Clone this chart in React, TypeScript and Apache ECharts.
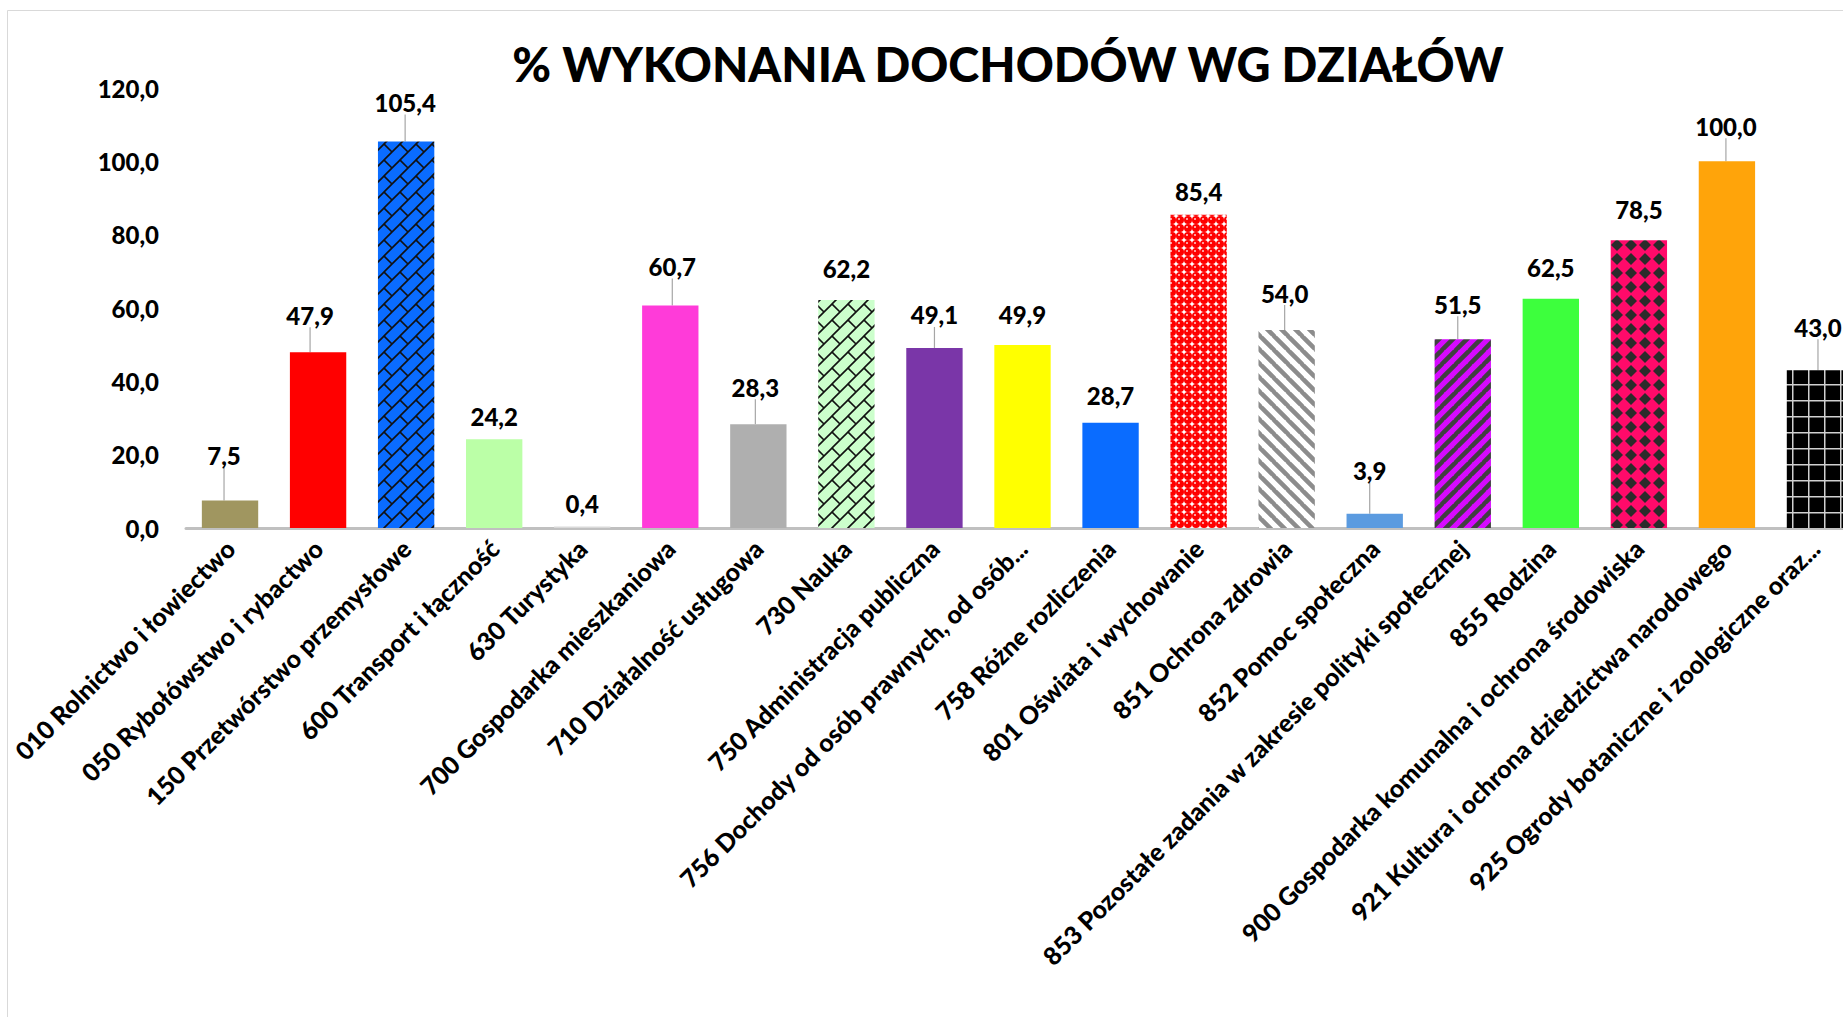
import React, { useEffect, useRef } from "react";
import * as echarts from "echarts";

const TITLE = "% WYKONANIA DOCHODÓW WG DZIAŁÓW";

const categories = [
  "010 Rolnictwo i łowiectwo",
  "050 Rybołówstwo i rybactwo",
  "150 Przetwórstwo przemysłowe",
  "600 Transport i łączność",
  "630 Turystyka",
  "700 Gospodarka mieszkaniowa",
  "710 Działalność usługowa",
  "730 Nauka",
  "750 Administracja publiczna",
  "756 Dochody od osób prawnych, od osób...",
  "758 Różne rozliczenia",
  "801 Oświata i wychowanie",
  "851 Ochrona zdrowia",
  "852 Pomoc społeczna",
  "853 Pozostałe zadania w zakresie polityki społecznej",
  "855 Rodzina",
  "900 Gospodarka komunalna i ochrona środowiska",
  "921 Kultura i ochrona dziedzictwa narodowego",
  "925 Ogrody botaniczne i zoologiczne oraz...",
];

const values = [7.5, 47.9, 105.4, 24.2, 0.4, 60.7, 28.3, 62.2, 49.1, 49.9, 28.7, 85.4, 54.0, 3.9, 51.5, 62.5, 78.5, 100.0, 43.0];

const yTicks = [0, 20, 40, 60, 80, 100, 120];

// label placement (styling only)
const labelLift = [28, 20, 22, 6, 6, 22, 20, 14, 16, 14, 10, 6, 20, 26, 18, 14, 14, 18, 26];
const labelShift = [-6, -8, -1, 0, 0, 2, -3, 0, 0, 0, 0, 0, -2, -5, -5, 0, 0, -1, 3];
const hasLeader = [1, 1, 1, 0, 0, 1, 1, 0, 1, 0, 0, 0, 1, 1, 1, 0, 0, 1, 1];

const fmt = (v: number) => v.toFixed(1).replace(".", ",");

function tile(w: number, h: number, draw: (c: CanvasRenderingContext2D) => void) {
  const cv = document.createElement("canvas");
  cv.width = w;
  cv.height = h;
  const ctx = cv.getContext("2d") as CanvasRenderingContext2D;
  draw(ctx);
  return { image: cv, repeat: "repeat", imageWidth: w, imageHeight: h } as any;
}

function brick(base: string) {
  return tile(16, 16, (c) => {
    c.fillStyle = base;
    c.fillRect(0, 0, 16, 16);
    c.strokeStyle = "#111";
    c.lineWidth = 1.6;
    c.beginPath();
    c.moveTo(-2, 18); c.lineTo(18, -2);
    c.moveTo(-2, 2); c.lineTo(2, -2);
    c.moveTo(14, 18); c.lineTo(18, 14);
    c.moveTo(-1, -1); c.lineTo(8, 8);
    c.stroke();
  });
}

function stripes(base: string, line: string, up: boolean, size: number, lw: number) {
  return tile(size, size, (c) => {
    c.fillStyle = base;
    c.fillRect(0, 0, size, size);
    c.strokeStyle = line;
    c.lineWidth = lw;
    c.beginPath();
    for (let k = -1; k <= 1; k++) {
      if (up) {
        c.moveTo(k * size - 1, size + 1);
        c.lineTo(k * size + size + 1, -1);
      } else {
        c.moveTo(k * size - 1, -1);
        c.lineTo(k * size + size + 1, size + 1);
      }
    }
    c.stroke();
  });
}

function spheres() {
  return tile(8, 8, (c) => {
    c.fillStyle = "#ffffff";
    c.fillRect(0, 0, 8, 8);
    c.fillStyle = "#ff0000";
    c.beginPath();
    c.arc(4, 4, 4.0, 0, Math.PI * 2);
    c.fill();
    c.fillStyle = "#ffd0d0";
    c.beginPath();
    c.arc(3, 3, 1, 0, Math.PI * 2);
    c.fill();
  });
}

function diamonds() {
  return tile(14, 14, (c) => {
    c.fillStyle = "#ff0a6a";
    c.fillRect(0, 0, 14, 14);
    c.fillStyle = "#2b2b2b";
    c.beginPath();
    c.moveTo(7, 1); c.lineTo(13, 7); c.lineTo(7, 13); c.lineTo(1, 7);
    c.closePath();
    c.fill();
  });
}

function gridTile() {
  return tile(16, 16, (c) => {
    c.fillStyle = "#000000";
    c.fillRect(0, 0, 16, 16);
    c.fillStyle = "#d0d0d0";
    c.fillRect(0, 0, 16, 1.5);
    c.fillRect(0, 0, 1.5, 16);
  });
}

export default function App() {
  const ref = useRef<HTMLDivElement>(null);
  useEffect(() => {
    if (!ref.current) return;
    const chart = echarts.init(ref.current, null, { renderer: "svg" });
    const fills: any[] = [
      "#a09660",
      "#ff0000",
      brick("#0a6cff"),
      "#bbffa7",
      "#d9d9d9",
      "#ff3bd9",
      "#afafaf",
      brick("#ccffcc"),
      "#7a36a8",
      "#ffff00",
      "#0a6cff",
      spheres(),
      stripes("#ffffff", "#8c8c8c", false, 14, 4.5),
      "#5b9be0",
      stripes("#d60aff", "#404040", true, 14, 4.5),
      "#3dff3d",
      diamonds(),
      "#ffa40a",
      gridTile(),
    ];
    const font = "Lato, 'Open Sans', sans-serif";
    chart.setOption({
      animation: false,
      backgroundColor: "#ffffff",
      graphic: [
        {
          type: "rect",
          shape: { x: 7.5, y: 10.5, width: 2000, height: 1100 },
          style: { fill: "none", stroke: "#d9d9d9", lineWidth: 1 },
          silent: true,
        },
        {
          type: "text",
          x: 1008,
          y: 64,
          style: {
            text: TITLE,
            fill: "#000",
            font: "900 47px Lato, sans-serif",
            textAlign: "center",
            textVerticalAlign: "middle",
          },
        },
      ],
      grid: { left: 186, right: 1, top: 88, bottom: 489, containLabel: false },
      xAxis: {
        type: "category",
        data: categories,
        axisLine: { show: true, lineStyle: { color: "#c0c0c0", width: 3 } },
        axisTick: { show: false },
        axisLabel: {
          interval: 0,
          rotate: 45,
          margin: 16,
          color: "#000",
          fontFamily: font,
          fontWeight: 900,
          fontSize: 25,
        },
      },
      yAxis: {
        type: "value",
        min: 0,
        max: 120,
        interval: 20,
        splitLine: { show: false },
        axisLine: { show: false },
        axisTick: { show: false },
        axisLabel: {
          margin: 27,
          color: "#000",
          fontFamily: font,
          fontWeight: 900,
          fontSize: 24,
          formatter: (v: number) => (yTicks.indexOf(v) >= 0 ? fmt(v) : ""),
        },
      },
      series: [
        {
          type: "bar",
          barCategoryGap: "36%",
          data: values.map((v, i) => ({
            value: v,
            itemStyle: { color: fills[i] },
            labelLine: { show: !!hasLeader[i] },
          })),
          label: {
            show: true,
            position: "top",
            distance: 5,
            color: "#000",
            fontFamily: font,
            fontWeight: 900,
            fontSize: 24,
            formatter: (p: any) => fmt(p.value),
          },
          labelLine: { show: false, lineStyle: { color: "#a6a6a6", width: 1.2 } },
          labelLayout: (p: any) => ({ dy: -labelLift[p.dataIndex], dx: labelShift[p.dataIndex] }),
        },
      ],
    });
    return () => chart.dispose();
  }, []);
  return (
    <div style={{ position: "fixed", left: 0, top: 0, width: 1843, height: 1017, overflow: "hidden", background: "#fff" }}>
      <div ref={ref} style={{ width: 1860, height: 1017 }} />
    </div>
  );
}
